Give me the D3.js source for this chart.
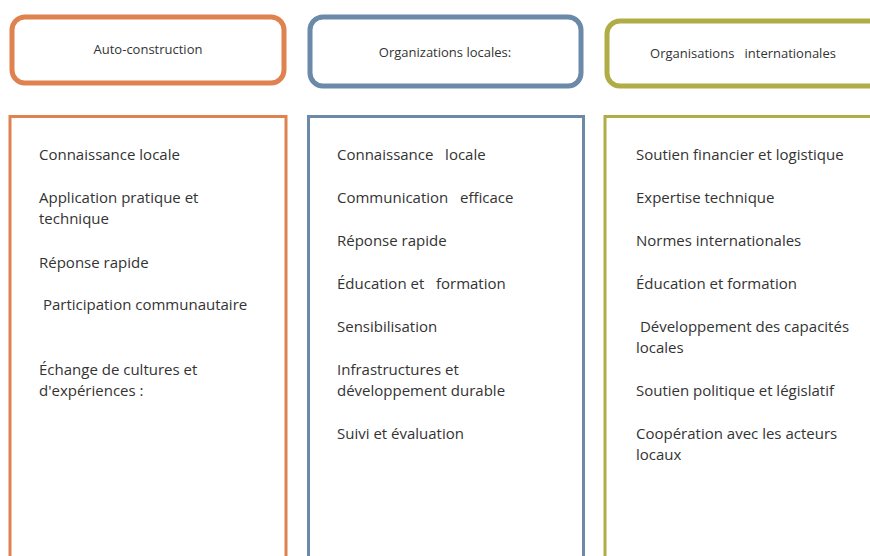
<!DOCTYPE html>
<html>
<head>
<meta charset="utf-8">
<script src="https://cdn.jsdelivr.net/npm/d3@7"></script>
<style>
html,body{margin:0;padding:0;background:#fff;}
svg{display:block;}
text{font-family:"Open Sans","Noto Sans",sans-serif;fill:#333;white-space:pre;}
</style>
</head>
<body>
<svg id="c" width="870" height="556"></svg>
<script>
const headers = ["Auto-construction", "Organizations locales:", "Organisations   internationales"];
const colors = ["#E0824F", "#6B89A9", "#B0AD46"];
const items1 = [["Connaissance locale"], ["Application pratique et", "technique"], ["Réponse rapide"], [" Participation communautaire"], ["Échange de cultures et", "d'expériences :"]];
const items2 = [["Connaissance   locale"], ["Communication   efficace"], ["Réponse rapide"], ["Éducation et   formation"], ["Sensibilisation"], ["Infrastructures et", "développement durable"], ["Suivi et évaluation"]];
const items3 = [["Soutien financier et logistique"], ["Expertise technique"], ["Normes internationales"], ["Éducation et formation"], [" Développement des capacités", "locales"], ["Soutien politique et législatif"], ["Coopération avec les acteurs", "locaux"]];

// layout (not data)
const cols = [
  {hx:12, hy:17, hw:272, hh:66, tx:148, ty:53.5, bx:10, bw:276, textX:39, starts:[155,198,263,305,370]},
  {hx:310, hy:17, hw:271, hh:69, tx:445, ty:56.5, bx:308.5, bw:275, textX:337, starts:[155,198,241,284,327,370,434]},
  {hx:607, hy:21, hw:290, hh:65, tx:743, ty:57.5, bx:605, bw:300, textX:636, starts:[155,198,241,284,327,391,434]}
];
const itemsAll = [items1, items2, items3];
const lineH = 21.5;

const svg = d3.select("#c");

const g = svg.selectAll("g.col").data(headers.map((h,i)=>({h, color:colors[i], items:itemsAll[i], L:cols[i]})))
  .join("g").attr("class","col");

g.append("rect")
  .attr("x", d=>d.L.hx).attr("y", d=>d.L.hy)
  .attr("width", d=>d.L.hw).attr("height", d=>d.L.hh)
  .attr("rx", 13).attr("ry", 13)
  .attr("fill","#fff").attr("stroke", d=>d.color).attr("stroke-width", 5);

g.append("text")
  .attr("x", d=>d.L.tx).attr("y", d=>d.L.ty)
  .attr("text-anchor","middle").attr("font-size", 13)
  .text(d=>d.h);

g.append("rect")
  .attr("x", d=>d.L.bx).attr("y", 116.5)
  .attr("width", d=>d.L.bw).attr("height", 500)
  .attr("fill","none").attr("stroke", d=>d.color).attr("stroke-width", 3);

g.each(function(d){
  const gg = d3.select(this);
  d.items.forEach((lines, k) => {
    lines.forEach((ln, j) => {
      gg.append("text")
        .attr("x", d.L.textX)
        .attr("y", d.L.starts[k] + j*lineH + 4.8)
        .attr("font-size", 15)
        .text(ln);
    });
  });
});
</script>
</body>
</html>
